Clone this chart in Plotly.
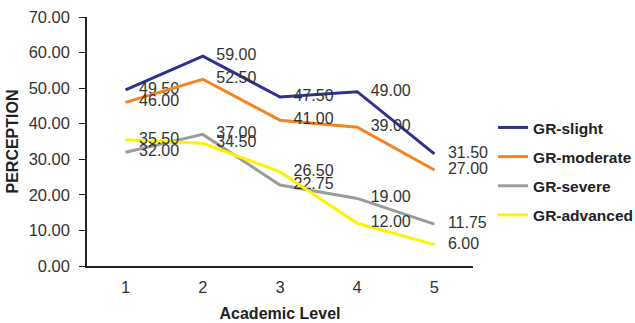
import plotly.graph_objects as go

levels = [1, 2, 3, 4, 5]
series_names = ["GR-slight", "GR-moderate", "GR-severe", "GR-advanced"]
gr_slight = [49.50, 59.00, 47.50, 49.00, 31.50]
gr_moderate = [46.00, 52.50, 41.00, 39.00, 27.00]
gr_severe = [32.00, 37.00, 22.75, 19.00, 11.75]
gr_advanced = [35.50, 34.50, 26.50, 12.00, 6.00]
colors = ["#2E3192", "#F7821F", "#9B9B9B", "#FFF200"]
y_ticks = [0, 10, 20, 30, 40, 50, 60, 70]

FONT = "Arial, Liberation Sans, sans-serif"

fig = go.Figure()
for i, (name, vals, col) in enumerate(zip(series_names, [gr_slight, gr_moderate, gr_severe, gr_advanced], colors)):
    fig.add_trace(go.Scatter(
        x=levels, y=vals, name=name, mode="lines+markers+text",
        legendgroup=f"g{i}",
        line=dict(color=col, width=3),
        marker=dict(size=20, color="rgba(0,0,0,0)"),
        text=[f"{v:.2f}" for v in vals],
        textposition="middle right",
        textfont=dict(family=FONT, size=16, color="#333333"),
        cliponaxis=False,
    ))

fig.update_layout(
    width=635, height=323, autosize=False,
    margin=dict(l=87, r=162, t=17, b=57, autoexpand=False),
    paper_bgcolor="white", plot_bgcolor="white",
    font=dict(family=FONT, size=16, color="#333333"),
    showlegend=True,
    legend=dict(x=1.052, y=0.38, xanchor="left", yanchor="middle",
                font=dict(family=FONT, size=15.5, color="#222222", weight="bold"),
                bgcolor="rgba(0,0,0,0)", tracegroupgap=6),
    xaxis=dict(range=[0.5, 5.5], tickmode="array", tickvals=levels,
               ticktext=[str(v) for v in levels], automargin=False,
               showline=True, linecolor="#222222", linewidth=1.5,
               showgrid=False, zeroline=False, ticks="", ticklabelstandoff=5,
               tickfont=dict(family=FONT, size=16.5, color="#333333"),
               title=dict(text="<b>Academic Level</b>", font=dict(size=16, color="#222222"), standoff=13)),
    yaxis=dict(range=[0, 70], tickmode="array", tickvals=y_ticks,
               ticktext=[f"{v:.2f}" for v in y_ticks], automargin=False,
               showline=True, linecolor="#222222", linewidth=1.5,
               showgrid=False, zeroline=False, ticks="outside", ticklen=6,
               ticklabelstandoff=6, ticklabeloverflow="allow",
               tickcolor="#222222", tickfont=dict(family=FONT, size=16.5, color="#333333"),
               title=dict(text="<b>PERCEPTION</b>", font=dict(size=16, color="#222222"), standoff=6)),
)

fig.write_html(
    "out.html",
    config={"displayModeBar": False, "responsive": False},
    post_script="document.body.style.margin='0';document.body.style.overflow='hidden';",
)
